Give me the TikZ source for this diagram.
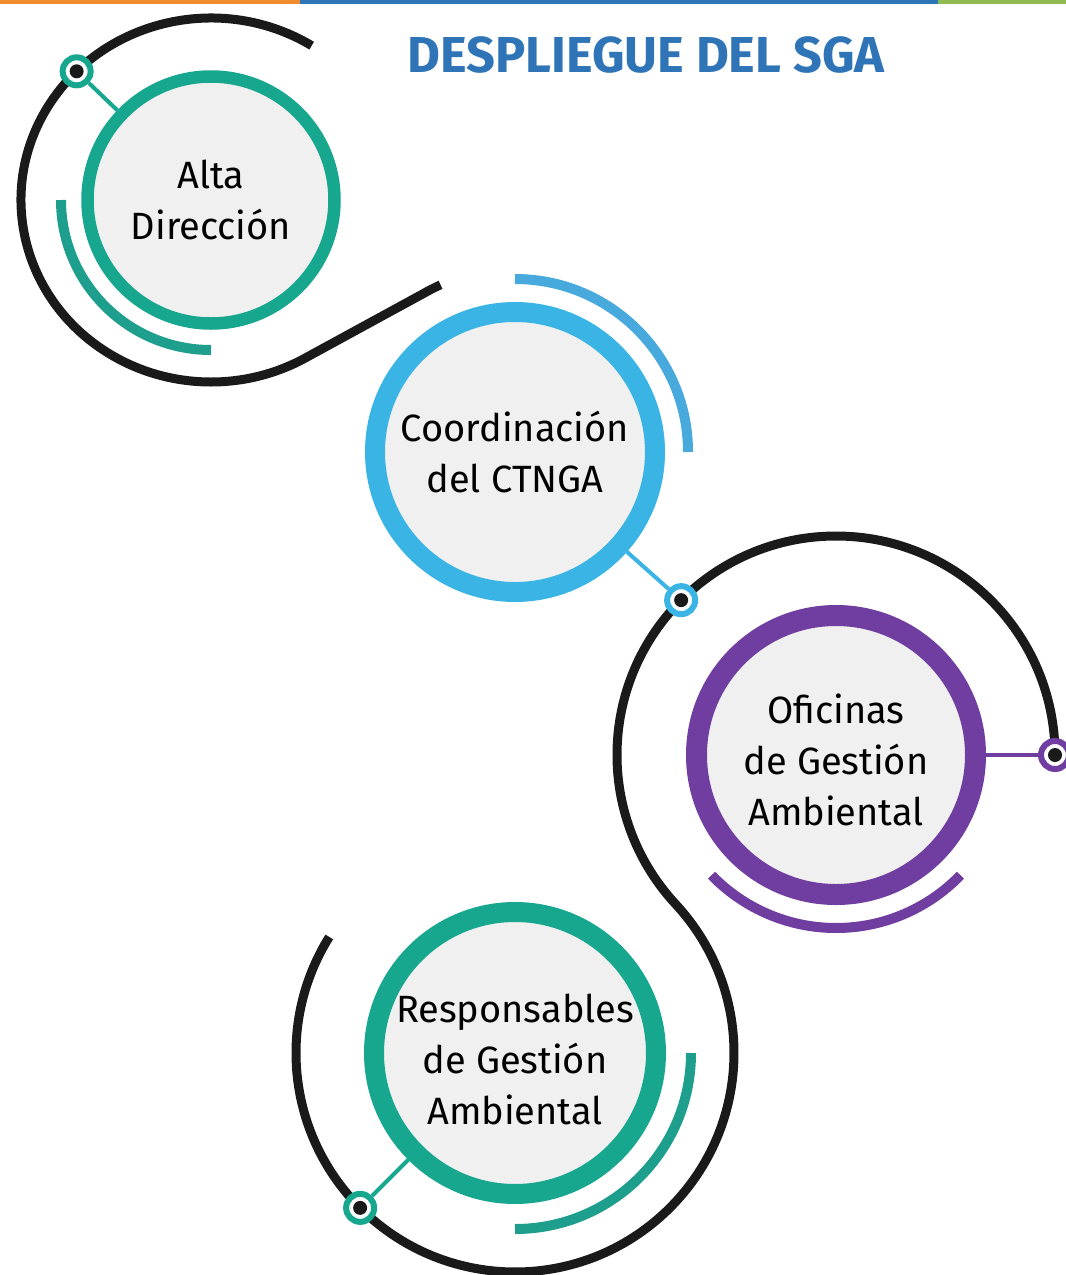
\documentclass[tikz,border=0pt]{standalone}
\usepackage{fontspec}
\setmainfont{Fira Sans}
\usetikzlibrary{calc,positioning}

\definecolor{verde}{RGB}{22,167,142}
\definecolor{verdeosc}{RGB}{30,158,140}
\definecolor{celeste}{RGB}{58,180,228}
\definecolor{celesteosc}{RGB}{72,169,220}
\definecolor{morado}{RGB}{112,62,160}
\definecolor{grisfondo}{RGB}{240,240,240}
\definecolor{negro}{RGB}{26,26,26}
\definecolor{titulo}{RGB}{46,116,183}
\definecolor{naranja}{RGB}{240,140,48}
\definecolor{azul}{RGB}{46,117,182}
\definecolor{lima}{RGB}{142,187,82}

\tikzstyle{wire} = [negro, line width=9pt]
\tikzset{
	ring/.style={circle, draw=#1, fill=grisfondo, align=center, inner sep=0pt,
		font=\fontsize{38}{51}\selectfont},
	band/.style={#1, line width=10pt},
	link/.style={#1, line width=4pt},
	punto/.style={circle, draw=#1, line width=6pt, fill=white, inner sep=0pt,
		minimum size=28pt,
		path picture={\fill[negro] (path picture bounding box.center) circle (7pt);}}
}

\begin{document}
\begin{tikzpicture}[x=1pt, y=1pt, line join=round]
		\useasboundingbox (0,0) rectangle (1066,-1275);
		
		% ---- 1. полоса и заголовок ----
		\fill[naranja] (0,0) rectangle (300,-3.5);
		\fill[azul] (300,0) rectangle (938,-3.5);
		\fill[lima] (938,0) rectangle (1066,-3.5);
		\node[anchor=base, text=titulo, font=\fontsize{50.5}{55}\selectfont\bfseries] (titulo) at (646,-72) {DESPLIEGUE DEL SGA};
		
		% ---- 2. кружки ----
		\node[ring=verde, line width=12.5pt, minimum size=247pt] (alta) at (211,-200) {Alta\\Dirección};
		\node[ring=celeste, line width=20pt, minimum size=280pt] (coord) at (515,-452) {Coordinación\\del CTNGA};
		\node[ring=morado, line width=21pt, minimum size=279pt] (ofic) at (836,-755) {\raisebox{-9pt}[\height][\depth]{\begin{tabular}{@{}c@{}}Oficinas\\de Gestión\\Ambiental\end{tabular}}};
		\node[ring=verde, line width=20pt, minimum size=280pt] (resp) at (515,-1053) {\raisebox{-10pt}[\height][\depth]{\begin{tabular}{@{}c@{}}Responsables\\de Gestión\\Ambiental\end{tabular}}};
		
		% ---- 3. чёрные дуги ----
		\draw[wire] ($(alta.center)+(58:190 and 182)$)
		arc[start angle=58, end angle=300, x radius=190, y radius=182]
		-- ($(coord.center)+(120:183)$) arc[start angle=120, end angle=114, radius=183];
		\draw[wire] ($(ofic.center)+(0:219)$) arc[start angle=0, end angle=222.9, radius=219];
		\draw[wire] ($(resp.center)+(42.9:219)$) arc[start angle=42.9, end angle=-212, radius=219];
		
		% ---- 4. цветные дуги ----
		\draw[band=verdeosc] ($(alta.center)+(180:150)$) arc[start angle=180, end angle=270, radius=150];
		\draw[band=celesteosc] ($(coord.center)+(90:173)$) arc[start angle=90, end angle=0, radius=173];
		\draw[band=morado] ($(ofic.center)+(224:173)$) arc[start angle=224, end angle=316, radius=173];
		\draw[band=verdeosc] ($(resp.center)+(0:176)$) arc[start angle=0, end angle=-90, radius=176];
		
		% ---- 5. точки и связи ----
		\node[punto=verde] (p1) at ($(alta.center)+(135:190 and 182)$) {};
		\node[punto=celeste] (p2) at ($(ofic.center)+(135:219)$) {};
		\node[punto=morado] (p3) at ($(ofic.center)+(0:219)$) {};
		\node[punto=verde] (p4) at ($(resp.center)+(225:219)$) {};
		
		\draw[link=verde] (p1) -- (alta);
		\draw[link=celeste] (p2) -- (coord);
		\draw[link=morado] (p3) -- (ofic);
		\draw[link=verde] (p4) -- (resp);
		
\end{tikzpicture}
\end{document}
